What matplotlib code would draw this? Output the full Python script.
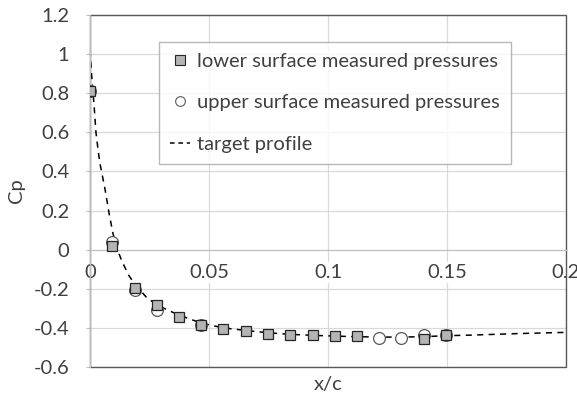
import matplotlib
matplotlib.use("Agg")
from matplotlib import pyplot as plt
from matplotlib.lines import Line2D
from matplotlib.patches import Rectangle

plt.rcParams['font.family'] = ['Lato', 'DejaVu Sans']

# lower surface measured pressures (squares)
lower_x = [0.0, 0.0093, 0.0187, 0.028, 0.0374, 0.0467, 0.056, 0.0654, 0.0748,
           0.0841, 0.0935, 0.1028, 0.1121, 0.1402, 0.1495]
lower_cp = [0.81, 0.017, -0.195, -0.285, -0.342, -0.387, -0.405, -0.414, -0.431,
            -0.437, -0.435, -0.441, -0.443, -0.457, -0.438]

# upper surface measured pressures (circles)
upper_x = [0.0, 0.0093, 0.0187, 0.028, 0.0467, 0.1215, 0.1308, 0.1402, 0.1495]
upper_cp = [0.81, 0.037, -0.205, -0.307, -0.385, -0.453, -0.45, -0.436, -0.438]

# target profile (dashed line)
target_x = [0.0, 0.0007, 0.0017, 0.0025, 0.0035, 0.0042, 0.0063, 0.0081, 0.0097,
            0.0115, 0.0133, 0.0161, 0.0187, 0.0238, 0.028, 0.0308, 0.0374, 0.0467,
            0.056, 0.0654, 0.0748, 0.0841, 0.0935, 0.1028, 0.1121, 0.1215, 0.1308,
            0.1402, 0.1495, 0.16, 0.17, 0.18, 0.19, 0.2]
target_cp = [1.02, 0.89, 0.74, 0.60, 0.50, 0.44, 0.31, 0.18, 0.08,
             0.0, -0.055, -0.128, -0.175, -0.245, -0.28, -0.298, -0.335, -0.375,
             -0.40, -0.413, -0.425, -0.433, -0.438, -0.442, -0.445, -0.447, -0.447,
             -0.445, -0.44, -0.437, -0.433, -0.429, -0.426, -0.423]

x_ticks = [0, 0.05, 0.1, 0.15, 0.2]
x_tick_labels = ['0', '0.05', '0.1', '0.15', '0.2']
y_ticks = [-0.6, -0.4, -0.2, 0, 0.2, 0.4, 0.6, 0.8, 1, 1.2]
y_tick_labels = ['-0.6', '-0.4', '-0.2', '0', '0.2', '0.4', '0.6', '0.8', '1', '1.2']

fig = plt.figure(figsize=(5.77, 3.94), dpi=100)
ax = fig.add_axes([90 / 577, 27 / 394, 476 / 577, 352 / 394])

text_color = '#404040'
grid_color = '#d9d9d9'
fs = 14.5

ax.plot(target_x, target_cp, color='black', linestyle=(0, (4, 3.5)), linewidth=1.1, zorder=2)
ax.plot(upper_x, upper_cp, linestyle='none', marker='o', markersize=8.5,
        markerfacecolor='white', markeredgecolor='#595959', markeredgewidth=0.9, zorder=3)
ax.plot(lower_x, lower_cp, linestyle='none', marker='s', markersize=7.5,
        markerfacecolor='#b4b4b4', markeredgecolor='#262626', markeredgewidth=0.9, zorder=4)

ax.set_xlim(0, 0.2)
ax.set_ylim(-0.6, 1.2)
ax.set_xticks(x_ticks)
ax.set_xticklabels(x_tick_labels)
ax.set_yticks(y_ticks)
ax.set_yticklabels(y_tick_labels)
ax.grid(color=grid_color, linewidth=0.9, zorder=0)
ax.set_axisbelow(True)

# x axis crosses at Cp = 0 like the spreadsheet chart
ax.spines['bottom'].set_position(('data', 0))
ax.spines['bottom'].set_color('#bfbfbf')
ax.spines['left'].set_color('#bfbfbf')
ax.spines['top'].set_visible(False)
ax.spines['right'].set_visible(False)
ax.add_patch(Rectangle((0, 0), 1, 1, transform=ax.transAxes, fill=False,
                       edgecolor='#595959', linewidth=1.0, clip_on=False, zorder=1))

ax.tick_params(axis='y', length=3, color='#bfbfbf', labelsize=fs, labelcolor=text_color, pad=12)
ax.tick_params(axis='x', length=0, labelsize=fs, labelcolor=text_color, pad=10)
for lab in ax.get_xticklabels():
    lab.set_bbox(dict(facecolor='white', edgecolor='none', pad=1.5))

ax.set_ylabel('Cp', fontsize=fs, color=text_color, labelpad=6)
ax.text(0.5, -0.025, 'x/c', transform=ax.transAxes, ha='center', va='top',
        fontsize=fs, color=text_color)

handles = [
    Line2D([], [], linestyle='none', marker='s', markersize=6.5, markerfacecolor='#b4b4b4',
           markeredgecolor='#262626', markeredgewidth=0.8),
    Line2D([], [], linestyle='none', marker='o', markersize=7, markerfacecolor='white',
           markeredgecolor='#595959', markeredgewidth=0.8),
    Line2D([], [], color='black', linestyle=(0, (3, 2.5)), linewidth=1.1),
]
labels = ['lower surface measured pressures', 'upper surface measured pressures', 'target profile']
leg = ax.legend(handles, labels, loc='upper left', bbox_to_anchor=(69 / 476, 1 - 27 / 352),
                fontsize=fs, frameon=True, fancybox=False, edgecolor='#a6a6a6',
                labelspacing=1.2, handlelength=1.0, handletextpad=0.35, borderpad=0.55,
                borderaxespad=0)
leg.get_frame().set_linewidth(1.0)
for t in leg.get_texts():
    t.set_color(text_color)

fig.savefig('out.png', dpi=100)
